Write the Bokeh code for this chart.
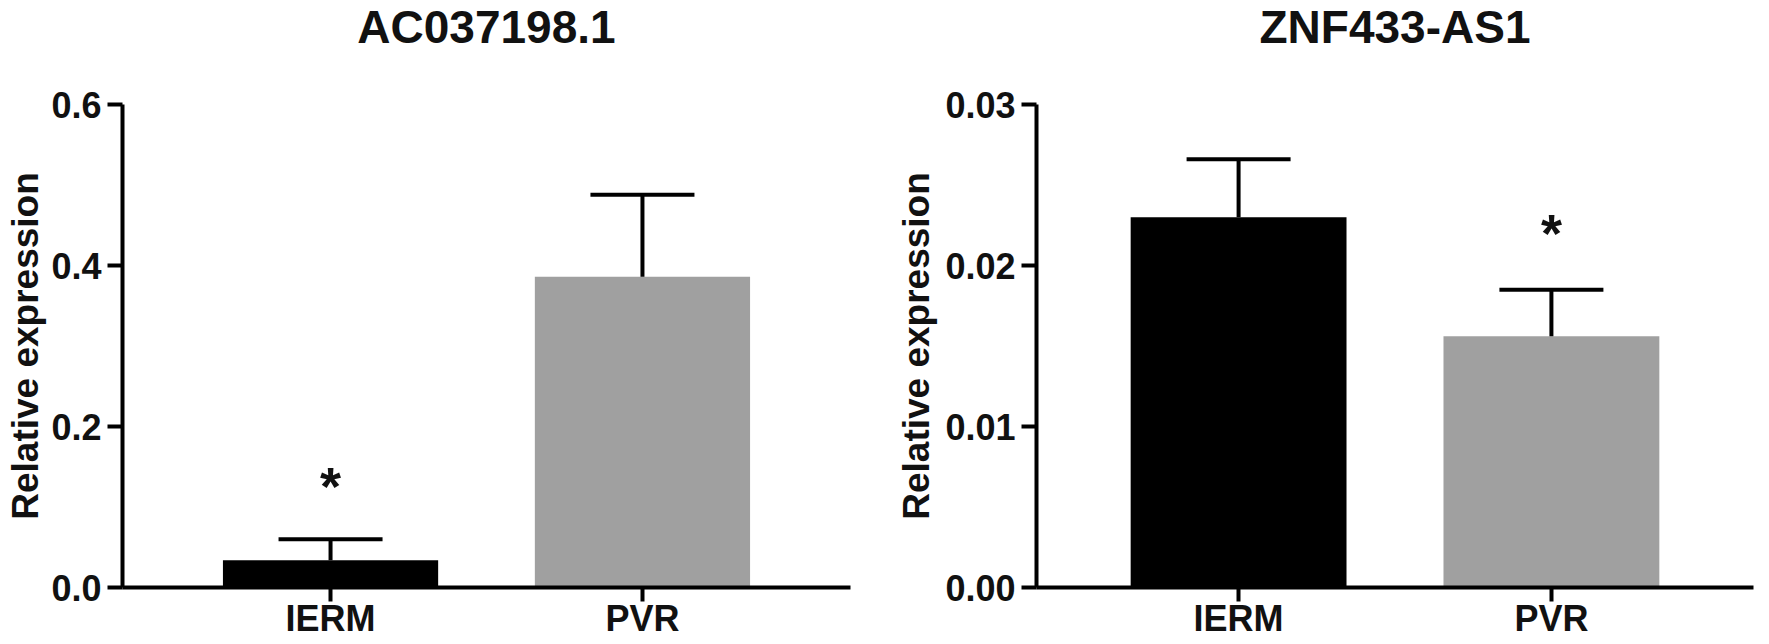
from bokeh.plotting import figure
from bokeh.models import (FactorRange, Range1d, FixedTicker, PrintfTickFormatter,
                          Whisker, TeeHead, ColumnDataSource, Title)
from bokeh.layouts import row
from bokeh.embed import file_html
from bokeh.resources import INLINE
from bokeh.core.properties import value

# ---------------- data ----------------
categories = ["IERM", "PVR"]
bar_colors = ["#000000", "#a0a0a0"]
y_label = "Relative expression"

ac_title = "AC037198.1"
ac_mean = [0.034, 0.386]
ac_upper = [0.060, 0.488]
ac_ticks = [0.0, 0.2, 0.4, 0.6]
ac_star_cat = ["IERM"]
ac_star_y = [0.137]

znf_title = "ZNF433-AS1"
znf_mean = [0.0230, 0.0156]
znf_upper = [0.0266, 0.0185]
znf_ticks = [0.00, 0.01, 0.02, 0.03]
znf_star_cat = ["PVR"]
znf_star_y = [0.0226]

FONT = "Liberation Sans"
TXT = "#111111"
HEIGHT = 643


def make_panel(title, means, uppers, ticks, fmt, star_cat, star_y,
               width, b_left, b_right, b_bottom, top_gap, pad, label_standoff):
    p = figure(width=width, height=HEIGHT,
               x_range=FactorRange(*categories, range_padding=pad),
               y_range=Range1d(ticks[0], ticks[-1]),
               output_backend="svg", toolbar_location=None,
               min_border_left=b_left, min_border_right=b_right,
               min_border_top=0, min_border_bottom=b_bottom)
    p.outline_line_color = None
    p.xgrid.grid_line_color = None
    p.ygrid.grid_line_color = None
    p.background_fill_color = "white"
    p.border_fill_color = "white"

    # blank spacer between the title and the plot area
    spacer = Title(text=" ", text_font_size="1px", standoff=top_gap)
    p.add_layout(spacer, "above")
    t = Title(text=title, text_font=FONT, text_font_size="46px",
              text_font_style="bold", text_color=TXT, align="center",
              vertical_align="top", standoff=0)
    p.add_layout(t, "above")

    src = ColumnDataSource(dict(cat=categories, mean=means, upper=uppers,
                                color=bar_colors))
    p.vbar(x="cat", top="mean", bottom=0, width=0.69, source=src,
           fill_color="color", line_color=None)

    wh = Whisker(base="cat", lower="mean", upper="upper", source=src,
                 line_width=4, line_color="black", level="glyph",
                 upper_head=TeeHead(size=104, line_width=4, line_color="black"),
                 lower_head=None)
    p.add_layout(wh)

    p.text(x=star_cat, y=star_y, text=["*"] * len(star_cat),
           text_font=value(FONT), text_font_style="bold",
           text_font_size="54px", text_align="center",
           text_baseline="middle", y_offset=9, text_color=TXT)

    for ax in (p.xaxis[0], p.yaxis[0]):
        ax.axis_line_width = 4
        ax.axis_line_color = "black"
        ax.major_tick_line_width = 4
        ax.major_tick_line_color = "black"
        ax.major_tick_in = 0
        ax.minor_tick_line_color = None
        ax.major_label_text_font = FONT
        ax.major_label_text_font_style = "bold"
        ax.major_label_text_font_size = "36px"
        ax.major_label_text_color = TXT

    p.xaxis.major_tick_out = 14
    p.xaxis.major_label_standoff = -4
    p.yaxis.major_tick_out = 15
    p.yaxis.major_label_standoff = 6
    p.yaxis.ticker = FixedTicker(ticks=ticks)
    p.yaxis.formatter = PrintfTickFormatter(format=fmt)
    p.yaxis.axis_label = y_label
    p.yaxis.axis_label_text_font = FONT
    p.yaxis.axis_label_text_font_style = "bold"
    p.yaxis.axis_label_text_font_size = "37px"
    p.yaxis.axis_label_text_color = TXT
    p.yaxis.axis_label_standoff = label_standoff
    return p


p1 = make_panel(ac_title, ac_mean, ac_upper, ac_ticks, "%.1f",
                ac_star_cat, ac_star_y, 880, 122, 30, 55, 47, 0.167, 2)
p2 = make_panel(znf_title, znf_mean, znf_upper, znf_ticks, "%.2f",
                znf_star_cat, znf_star_y, 888, 156, 15, 56, 47, 0.146, 5)

layout = row(p1, p2)
open("out.html", "w").write(file_html(layout, INLINE))
